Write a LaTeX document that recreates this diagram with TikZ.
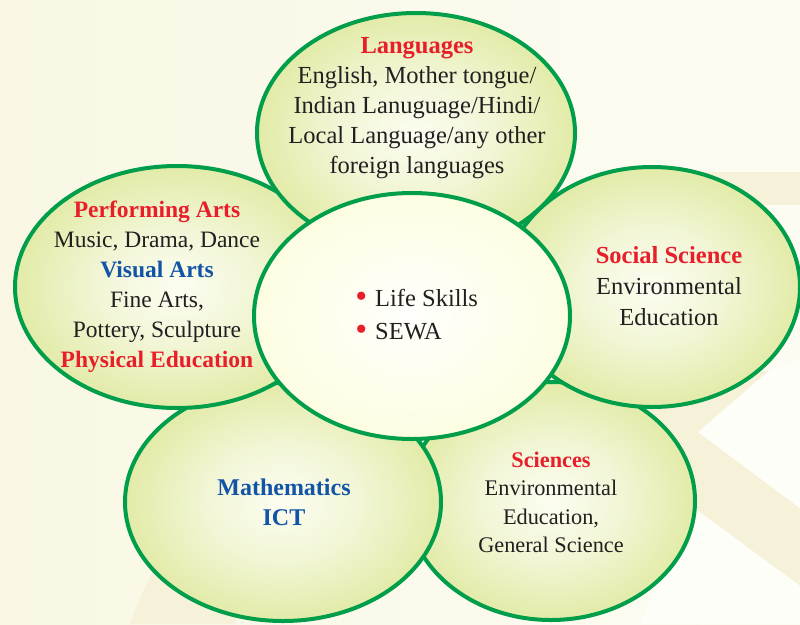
\documentclass[tikz,border=0pt]{standalone}
\usepackage{fontspec}
\setmainfont{Liberation Serif}
\usepackage{xcolor}
\usetikzlibrary{shapes.geometric}
\definecolor{pgreen}{RGB}{0,158,74}
\definecolor{tred}{RGB}{232,30,42}
\definecolor{tblue}{RGB}{18,84,165}
\definecolor{tdark}{RGB}{35,31,32}
\definecolor{petalin}{RGB}{252,253,241}
\definecolor{petalmid}{RGB}{242,246,214}
\definecolor{petalout}{RGB}{226,235,168}
\definecolor{corein}{RGB}{255,255,253}
\definecolor{coreout}{RGB}{253,253,226}
\definecolor{bgA}{RGB}{249,247,228}
\definecolor{bgB}{RGB}{253,252,243}
\definecolor{bandcol}{RGB}{246,242,218}
\definecolor{nearwhite}{RGB}{254,254,249}
\pgfdeclareradialshading{petalshade}{\pgfpoint{0bp}{0bp}}{color(0bp)=(petalin); color(12bp)=(petalmid); color(25bp)=(petalout); color(50bp)=(petalout)}
\pgfdeclareradialshading{coreshade}{\pgfpoint{0bp}{0bp}}{color(0bp)=(corein); color(25bp)=(coreout); color(50bp)=(coreout)}
\tikzset{
  petal/.style={shape=ellipse, draw=pgreen, line width=4pt, shade, shading=petalshade, inner sep=0pt},
  core/.style={shape=ellipse, draw=pgreen, line width=4pt, shade, shading=coreshade, inner sep=0pt},
  txt/.style={text=tdark, inner sep=0pt, anchor=base},
}
\newcommand{\redbul}{\llap{\textcolor{tred}{\fontsize{34}{34}\selectfont\raisebox{-1.5pt}{\textbullet}}\hspace{8pt}}}
\begin{document}
\begin{tikzpicture}[x=1pt, y=-1pt]
\useasboundingbox (0,0) rectangle (800,624);
% background
\shade[left color=bgA, right color=bgB] (0,0) rectangle (800,624);
\fill[bandcol] (700,172) -- (800,172) -- (800,205) -- (700,205) -- cycle;
\fill[bandcol] (620,400) -- (770,370) -- (698,432) -- (800,508) -- (800,586) -- (690,505) -- (620,470) -- cycle;
\fill[nearwhite] (698,432) -- (770,370) -- (800,360) -- (800,508) -- cycle;
\fill[nearwhite] (690,505) -- (800,586) -- (800,624) -- (640,624) -- cycle;
\fill[bandcol] (130,624) .. controls (150,560) and (200,500) .. (260,460) -- (330,470) .. controls (270,520) and (240,580) .. (235,624) -- cycle;
% petals (back to front)
\node[petal, minimum width=288, minimum height=238] (sci) at (551,501) {};
\node[petal, minimum width=316, minimum height=238] (math) at (283,502) {};
\node[petal, minimum width=324, minimum height=242] (perf) at (177,287) {};
\node[petal, minimum width=318, minimum height=240] (lang) at (416,133) {};
\node[petal, minimum width=296, minimum height=240] (soc) at (652,287) {};
\node[core, minimum width=316, minimum height=246] (core) at (412,316) {};
% texts
\node[txt] (langtxt) at (417,53) {\fontsize{24.5}{30}\selectfont\begin{tabular}[t]{@{}c@{}}\textcolor{tred}{\bfseries Languages}\\ English, Mother tongue/\\ Indian Lanuguage/Hindi/\\ Local Language/any other\\ foreign languages\end{tabular}};
\node[txt] (perftxt) at (157,217) {\fontsize{23.5}{30}\selectfont\begin{tabular}[t]{@{}c@{}}\textcolor{tred}{\bfseries Performing Arts}\\ Music, Drama, Dance\\ \textcolor{tblue}{\bfseries Visual Arts}\\ Fine Arts,\\ Pottery, Sculpture\\ \textcolor{tred}{\bfseries Physical Education}\end{tabular}};
\node[txt] (soctxt) at (669,263) {\fontsize{24.5}{31}\selectfont\begin{tabular}[t]{@{}c@{}}\textcolor{tred}{\bfseries Social Science}\\ Environmental\\ Education\end{tabular}};
\node[txt] (mathtxt) at (284,495) {\fontsize{24}{30}\selectfont\color{tblue}\bfseries\begin{tabular}[t]{@{}c@{}}Mathematics\\ ICT\end{tabular}};
\node[txt] (scitxt) at (551,467) {\fontsize{22.3}{28.5}\selectfont\begin{tabular}[t]{@{}c@{}}\textcolor{tred}{\bfseries Sciences}\\ Environmental\\ Education,\\ General Science\end{tabular}};
\node[txt, anchor=base west] (coretxt) at (375,306) {\fontsize{24.5}{33}\selectfont\begin{tabular}[t]{@{}l@{}}\redbul Life Skills\\ \redbul SEWA\end{tabular}};
\end{tikzpicture}
\end{document}
